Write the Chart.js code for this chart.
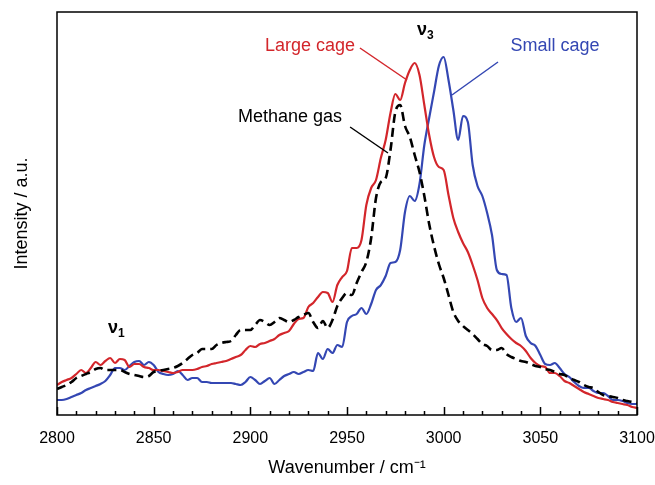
<!DOCTYPE html>
<html>
<head>
<meta charset="utf-8">
<script src="https://cdn.jsdelivr.net/npm/chart.js@4.4.1/dist/chart.umd.min.js"></script>
<style>
  html, body { margin: 0; padding: 0; background: #fff; }
  #wrap { width: 655px; height: 485px; }
</style>
</head>
<body>
<div id="wrap"><canvas id="raman-chart" width="655" height="485"></canvas></div>
<script>
// wavenumber grid, 2800 - 3100 cm-1 every 2.5
const wavenumbers = [];
for (let i = 0; i <= 120; i++) wavenumbers.push(2800 + i * 2.5);

// intensities (a.u.)
const largeCage = [
  30, 33, 35, 37, 41, 45, 42, 47, 53, 50, 54, 57, 52, 56, 55, 48, 51, 51, 48, 47,
  45, 45, 44, 43, 42, 43, 45, 45, 45, 46, 48, 49, 51, 52, 53, 54, 56, 58, 60, 65,
  69, 68, 71, 72, 74, 76, 80, 82, 84, 91, 96, 97, 108, 112, 118, 123, 122, 113, 130, 138,
  144, 167, 167, 175, 210, 227, 235, 257, 275, 302, 321, 315, 332, 345, 352, 340, 310, 280, 258, 248,
  245, 220, 197, 183, 172, 163, 150, 135, 117, 107, 101, 95, 87, 81, 76, 72, 69, 64, 57, 52,
  49, 48, 42, 42, 39, 34, 32, 29, 26, 23, 21, 19, 17, 16, 15, 13, 12, 11, 10, 8, 7
];
const smallCage = [
  15, 15, 16, 18, 20, 22, 25, 27, 29, 31, 34, 40, 47, 47, 45, 49, 53, 54, 50, 53,
  50, 43, 41, 40, 41, 44, 40, 35, 37, 37, 33, 33, 32, 32, 32, 32, 32, 31, 30, 33,
  38, 35, 31, 34, 37, 31, 35, 39, 41, 43, 41, 43, 45, 44, 62, 56, 66, 62, 70, 68,
  93, 99, 101, 107, 101, 111, 125, 130, 139, 152, 153, 165, 203, 219, 214, 231, 270, 297, 323, 349,
  358, 335, 305, 275, 299, 293, 250, 229, 219, 202, 180, 145, 141, 140, 107, 93, 97, 79, 72, 69,
  60, 51, 50, 52, 47, 41, 38, 33, 29, 27, 27, 24, 22, 22, 19, 15, 15, 14, 12, 11, 11
];
const methaneGas = [
  26, 28, 30, 33, 37, 39, 41, 43, 46, 47, 45, 45, 45, 45, 43, 41, 40, 39, 38, 39,
  43, 44, 45, 46, 47, 49, 52, 56, 60, 62, 66, 66, 66, 70, 72, 73, 74, 80, 85, 85,
  85, 90, 95, 93, 90, 93, 97, 95, 93, 95, 98, 100, 102, 93, 87, 94, 87, 95, 109, 117,
  122, 120, 132, 143, 153, 177, 217, 233, 237, 265, 303, 310, 289, 278, 260, 243, 219, 191, 169, 151,
  137, 120, 103, 94, 89, 85, 81, 76, 71, 69, 65, 65, 67, 61, 58, 56, 54, 53, 51, 49,
  48, 46, 45, 43, 41, 40, 37, 35, 33, 30, 28, 27, 23, 20, 19, 18, 17, 15, 14, 13, 12
];
const xTicks = [2800, 2850, 2900, 2950, 3000, 3050, 3100];

const RED = '#d3262b';
const BLUE = '#3447b3';
const FONT = "'Liberation Sans', Arial, sans-serif";

function toPoints(values) {
  return values.map((v, i) => ({ x: wavenumbers[i], y: v }));
}

// frame, inward ticks and the in-plot labels
const decorations = {
  id: 'decorations',
  afterDraw(chart) {
    const c = chart.ctx;
    const a = chart.chartArea;
    const xs = chart.scales.x;
    const ys = chart.scales.y;
    const px = v => xs.getPixelForValue(v);
    const py = v => ys.getPixelForValue(v);

    c.save();
    c.strokeStyle = '#000';
    c.lineWidth = 1.5;
    c.strokeRect(a.left, a.top, a.right - a.left, a.bottom - a.top);

    // minor every 10, major every 50, pointing into the plot
    c.beginPath();
    for (let w = 2800; w <= 3100; w += 10) {
      const len = (w % 50 === 0) ? 8 : 4;
      const x = Math.round(px(w)) + 0.5;
      c.moveTo(x, a.bottom);
      c.lineTo(x, a.bottom - len);
    }
    c.stroke();

    // leader lines
    c.lineWidth = 1.5;
    const leader = (color, x1, y1, x2, y2) => {
      c.strokeStyle = color;
      c.beginPath();
      c.moveTo(px(x1), py(y1));
      c.lineTo(px(x2), py(y2));
      c.stroke();
    };
    leader(RED, 2956.7, 367, 2981, 335);
    leader(BLUE, 3028.1, 353, 3004.3, 320);
    leader('#000', 2951.6, 288, 2971.2, 262);

    c.textAlign = 'center';
    c.textBaseline = 'middle';
    c.font = '18px ' + FONT;
    c.fillStyle = RED;
    c.fillText('Large cage', px(2930.9), py(369));
    c.fillStyle = BLUE;
    c.fillText('Small cage', px(3057.6), py(369));
    c.fillStyle = '#000';
    c.fillText('Methane gas', px(2920.5), py(298));

    // nu labels
    const nu = (sub, x, y) => {
      c.font = 'bold 18px ' + FONT;
      c.textAlign = 'center';
      c.fillText('ν', px(x), py(y));
      c.font = 'bold 12px ' + FONT;
      c.textAlign = 'left';
      c.fillText(sub, px(x) + 5, py(y) + 6);
    };
    nu('3', 2988.8, 385);
    nu('1', 2829, 87);
    c.restore();
  }
};

const ctx = document.getElementById('raman-chart').getContext('2d');
new Chart(ctx, {
  type: 'line',
  data: {
    datasets: [
      {
        label: 'Methane gas',
        data: toPoints(methaneGas),
        borderColor: '#000',
        borderWidth: 2.6,
        borderDash: [9, 5],
        pointRadius: 0,
        cubicInterpolationMode: 'monotone',
        fill: false
      },
      {
        label: 'Large cage',
        data: toPoints(largeCage),
        borderColor: RED,
        borderWidth: 2.2,
        pointRadius: 0,
        cubicInterpolationMode: 'monotone',
        fill: false
      },
      {
        label: 'Small cage',
        data: toPoints(smallCage),
        borderColor: BLUE,
        borderWidth: 2.2,
        pointRadius: 0,
        cubicInterpolationMode: 'monotone',
        fill: false
      }
    ]
  },
  options: {
    responsive: false,
    animation: false,
    events: [],
    layout: { padding: { top: 12, right: 18, left: 0, bottom: 0 } },
    plugins: {
      legend: { display: false },
      tooltip: { enabled: false }
    },
    scales: {
      x: {
        type: 'linear',
        min: 2800,
        max: 3100,
        afterFit: s => {
          s.height = 70;
          s.paddingLeft = 0;
          s.paddingRight = 0;
        },
        afterBuildTicks: s => { s.ticks = xTicks.map(v => ({ value: v })); },
        grid: { display: false, drawTicks: false },
        border: { display: false },
        ticks: {
          color: '#000',
          padding: 14,
          maxRotation: 0,
          font: { family: FONT, size: 16 },
          callback: v => String(v)
        },
        title: {
          display: true,
          text: 'Wavenumber / cm⁻¹',
          color: '#000',
          padding: { top: 0, bottom: 6 },
          font: { family: FONT, size: 18 }
        }
      },
      y: {
        min: 0,
        max: 403,
        afterFit: s => { s.width = 57; },
        grid: { display: false, drawTicks: false },
        border: { display: false },
        ticks: { display: false },
        title: {
          display: true,
          text: 'Intensity / a.u.',
          color: '#000',
          padding: { top: 11, bottom: 0 },
          font: { family: FONT, size: 18 }
        }
      }
    }
  },
  plugins: [decorations]
});
</script>
</body>
</html>
